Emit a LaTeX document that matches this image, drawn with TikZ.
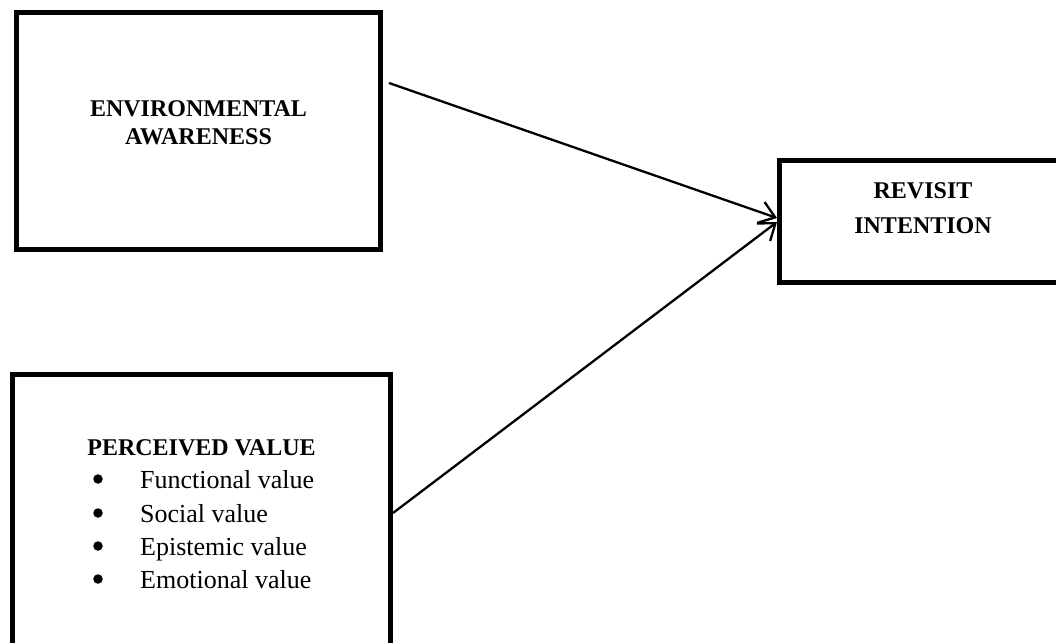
\documentclass[tikz,border=0pt]{standalone}
\usepackage{fontspec}
\setmainfont{Liberation Serif}
\usetikzlibrary{arrows.meta}
\tikzset{
  box/.style={draw=black, line width=5pt, rectangle, inner sep=0pt, fill=white},
  titletext/.style={font=\fontsize{24}{28}\selectfont\bfseries, align=center, inner sep=0pt},
  itemtext/.style={font=\fontsize{26}{30}\selectfont, inner sep=0pt, anchor=base west},
  bulletdot/.style={circle, fill=black, inner sep=0pt, minimum size=9.5pt},
  link/.style={draw=black, line width=2.3pt, -{Straight Barb[length=15pt,width=22pt]}}
}
\begin{document}
\begin{tikzpicture}[x=1pt,y=-1pt]
\useasboundingbox (0,0) rectangle (1056,642);
\clip (0,0) rectangle (1056,642);
% boxes
\node[box, minimum width=364pt, minimum height=237pt] (env) at (198.5,131) {};
\node[box, minimum width=287pt, minimum height=122pt] (rev) at (923,221.5) {};
\node[box, minimum width=378pt, minimum height=290pt] (pv) at (201.5,519.5) {};
% texts
\node[titletext] (envt) at (198.5,123) {ENVIRONMENTAL\\AWARENESS};
\node[titletext, font=\fontsize{24}{35}\selectfont\bfseries] (revt) at (923,208.5) {REVISIT\\INTENTION};
\node[titletext, anchor=base] (pvt) at (201.5,455) {PERCEIVED VALUE};
\node[bulletdot] (b1) at (98,479) {};
\node[bulletdot] (b2) at (98,513) {};
\node[bulletdot] (b3) at (98,546) {};
\node[bulletdot] (b4) at (98,579) {};
\node[itemtext] (i1) at (140,488) {Functional value};
\node[itemtext] (i2) at (140,522) {Social value};
\node[itemtext] (i3) at (140,555) {Epistemic value};
\node[itemtext] (i4) at (140,588) {Emotional value};
% connectors
\coordinate (s1) at (389,83);
\coordinate (s2) at (pv.east |- 0,513);
\coordinate (e1) at (rev.west |- 0,218);
\coordinate (e2) at (rev.west |- 0,222);
\draw[link] (s1) -- (e1);
\draw[link] (s2) -- (e2);
\end{tikzpicture}
\end{document}
